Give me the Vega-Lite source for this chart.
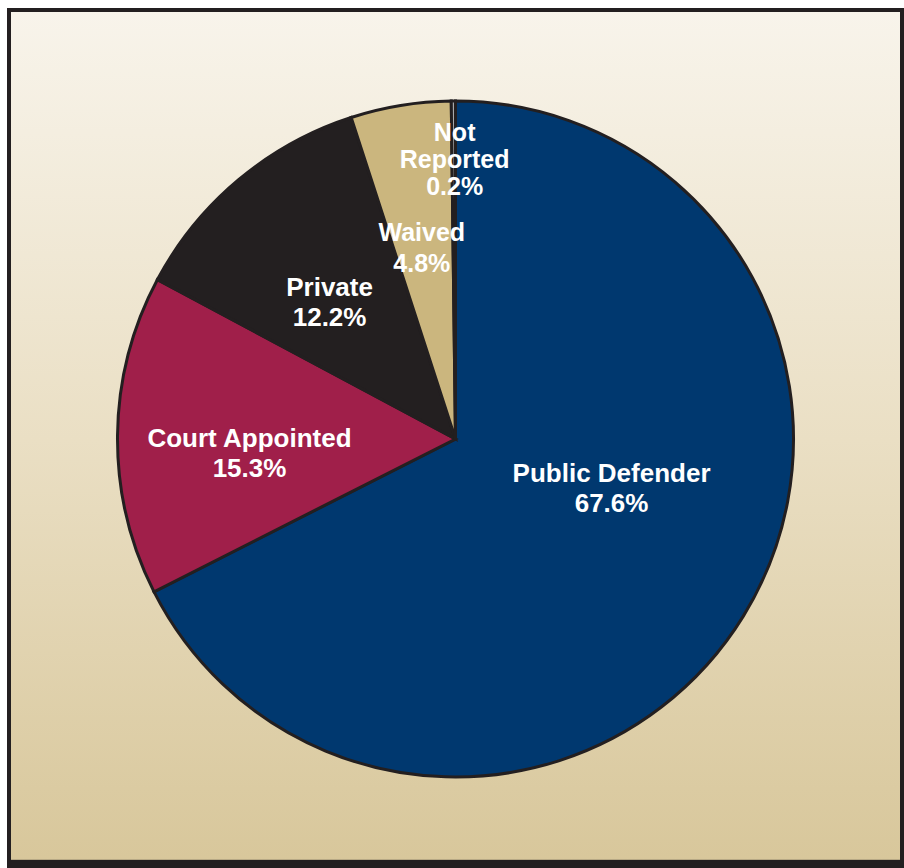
{
  "$schema": "https://vega.github.io/schema/vega-lite/v6.json",
  "width": 893,
  "height": 858,
  "autosize": "none",
  "padding": {"left": 9, "top": 10, "right": 2, "bottom": 0},
  "background": "white",
  "config": {"view": {"stroke": null}},
  "data": {
    "values": [
      {"category": "Public Defender", "value": 67.6, "order": 1, "label": "Public Defender\n67.6%"},
      {"category": "Court Appointed", "value": 15.3, "order": 2, "label": "Court Appointed\n15.3%"},
      {"category": "Private", "value": 12.2, "order": 3, "label": "Private\n12.2%"},
      {"category": "Waived", "value": 4.8, "order": 4, "label": "Waived\n4.8%"},
      {"category": "Not Reported", "value": 0.2, "order": 5, "label": "Not\nReported\n0.2%"}
    ]
  },
  "encoding": {
    "theta": {"field": "value", "type": "quantitative", "stack": true},
    "order": {"field": "order", "type": "quantitative"}
  },
  "layer": [
    {
      "data": {"values": [{"bg": 1}]},
      "mark": {
        "type": "rect",
        "fill": {
          "gradient": "linear",
          "x1": 0, "y1": 0, "x2": 0, "y2": 1,
          "stops": [
            {"offset": 0, "color": "#f8f4eb"},
            {"offset": 0.5, "color": "#eadfc4"},
            {"offset": 0.99, "color": "#d8c79b"},
            {"offset": 0.9905, "color": "#231f20"},
            {"offset": 1, "color": "#231f20"}
          ]
        },
        "stroke": "#231f20",
        "strokeWidth": 4
      },
      "encoding": {
        "theta": null,
        "order": null,
        "x": {"value": 0},
        "x2": {"value": "width"},
        "y": {"value": 0},
        "y2": {"value": "height"}
      }
    },
    {
      "mark": {"type": "arc", "outerRadius": 338, "stroke": "#231f20", "strokeWidth": 3},
      "encoding": {
        "color": {
          "field": "category",
          "type": "nominal",
          "scale": {
            "domain": ["Public Defender", "Court Appointed", "Private", "Waived", "Not Reported"],
            "range": ["#00386f", "#a01f4a", "#231f20", "#cbb67e", "#a7a9ac"]
          },
          "legend": null
        }
      }
    },
    {
      "mark": {"type": "text", "radius": 162, "dx": 18, "dy": -42, "font": "Liberation Sans", "fontWeight": "bold", "fontSize": 26, "fill": "white", "align": "center", "baseline": "alphabetic", "lineBreak": "\n", "lineHeight": 30},
      "encoding": {"text": {"condition": {"test": "datum.category === 'Public Defender'", "field": "label", "type": "nominal"}, "value": ""}}
    },
    {
      "mark": {"type": "text", "radius": 206, "dx": 0, "dy": 10, "font": "Liberation Sans", "fontWeight": "bold", "fontSize": 26, "fill": "white", "align": "center", "baseline": "alphabetic", "lineBreak": "\n", "lineHeight": 30},
      "encoding": {"text": {"condition": {"test": "datum.category === 'Court Appointed'", "field": "label", "type": "nominal"}, "value": ""}}
    },
    {
      "mark": {"type": "text", "radius": 190, "dx": -4, "dy": 3, "font": "Liberation Sans", "fontWeight": "bold", "fontSize": 26, "fill": "white", "align": "center", "baseline": "alphabetic", "lineBreak": "\n", "lineHeight": 30},
      "encoding": {"text": {"condition": {"test": "datum.category === 'Private'", "field": "label", "type": "nominal"}, "value": ""}}
    },
    {
      "mark": {"type": "text", "radius": 201, "dx": -1, "dy": 0, "font": "Liberation Sans", "fontWeight": "bold", "fontSize": 25, "fill": "white", "align": "center", "baseline": "alphabetic", "lineBreak": "\n", "lineHeight": 31},
      "encoding": {"text": {"condition": {"test": "datum.category === 'Waived'", "field": "label", "type": "nominal"}, "value": ""}}
    },
    {
      "mark": {"type": "text", "radius": 298, "dx": 1, "dy": 0, "font": "Liberation Sans", "fontWeight": "bold", "fontSize": 25, "fill": "white", "align": "center", "baseline": "alphabetic", "lineBreak": "\n", "lineHeight": 27},
      "encoding": {"text": {"condition": {"test": "datum.category === 'Not Reported'", "field": "label", "type": "nominal"}, "value": ""}}
    }
  ]
}
